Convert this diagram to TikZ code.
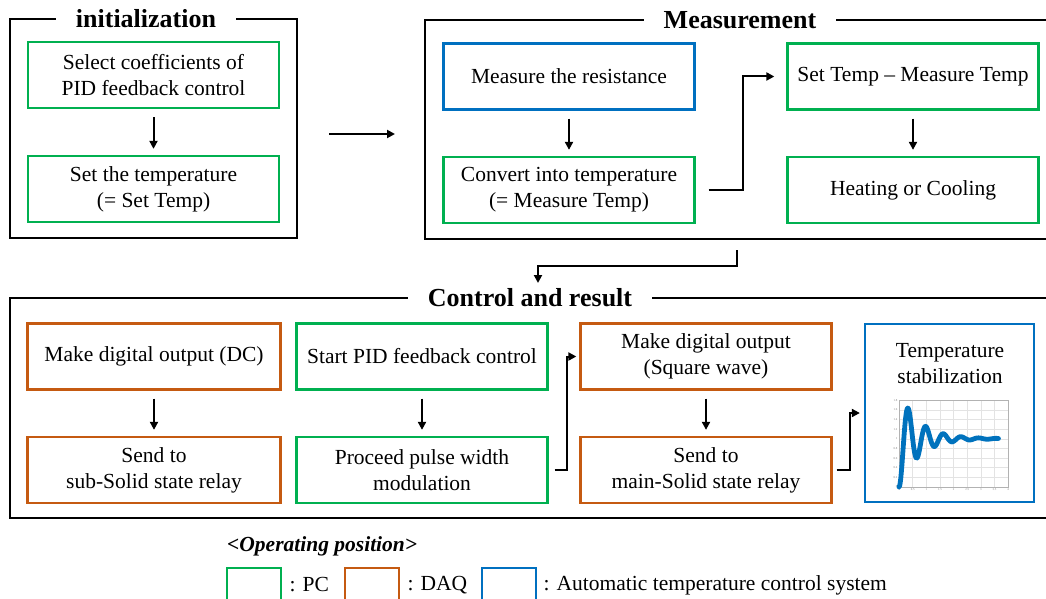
\documentclass[tikz,border=0pt]{standalone}
\usepackage{fontspec}
\setmainfont{Liberation Serif}
\usepackage{tikz}
\usetikzlibrary{arrows.meta}
\usetikzlibrary{positioning}
\definecolor{pcgreen}{RGB}{0,176,80}
\definecolor{daqorange}{RGB}{197,90,17}
\definecolor{sysblue}{RGB}{0,112,192}
\definecolor{plotblue}{RGB}{0,114,189}
\tikzset{
    stage/.style={
        draw,
        line width=2.3pt,
        minimum width=251pt,
        minimum height=66pt,
        align=center,
        inner sep=2pt,
        font=\fontsize{21.5}{26}\selectfont
    },
    pc/.style={stage, draw=pcgreen},
    daq/.style={stage, draw=daqorange},
    sys/.style={stage, draw=sysblue},
    frame/.style={draw, line width=2.4pt, inner sep=0pt},
    title/.style={
        fill=white,
        inner xsep=20pt,
        inner ysep=0pt,
        font=\fontsize{26}{30}\selectfont\bfseries
    },
    flow/.style={
        draw,
        -{Triangle[length=8pt, width=8pt]},
        line width=2pt
    },
    down/.style={flow, shorten <=8pt, shorten >=6pt},
    keybox/.style={line width=2.3pt, minimum width=54pt, minimum height=46pt},
    keytext/.style={anchor=west, font=\fontsize{21.5}{26}\selectfont}
}

\begin{document}
\begin{tikzpicture}[x=1pt, y=-1pt]
    \useasboundingbox (0,0) rectangle (1046,599);

    % Frames and their titles
    \node[frame, minimum width=287pt, minimum height=219pt] (init) at (153.5,128.5) {};
    \node[title] (inittitle) at (146,19) {initialization};
    \node[frame, minimum width=627pt, minimum height=219pt] (meas) at (738.5,129.5) {};
    \node[title] (meastitle) at (740,20) {Measurement};
    \node[frame, minimum width=1042pt, minimum height=220pt] (ctrl) at (531,408) {};
    \node[title] (ctrltitle) at (530,298) {Control and result};

    % Steps for initialization
    \node[pc] (coef) at (153.5,75) {Select coefficients of\\PID feedback control};
    \node[pc] (settemp) at (153.5,189) {Set the temperature\\(= Set Temp)};

    % Steps for measurement
    \node[sys] (resist) at (569,76.5) {Measure the resistance};
    \node[pc] (convert) at (569,190) {Convert into temperature\\(= Measure Temp)};
    \node[pc] (diff) at (913,76.5) {Set Temp -- Measure Temp};
    \node[pc] (heat) at (913,190) {Heating or Cooling};

    % Steps for control and result
    \node[daq, minimum width=253pt] (dcout) at (154,356.5) {Make digital output (DC)};
    \node[daq, minimum width=253pt] (subssr) at (154,470) {Send to\\sub-Solid state relay};
    \node[pc] (startpid) at (422,356.5) {Start PID feedback control};
    \node[pc] (pwm) at (422,470) {Proceed pulse width\\modulation};
    \node[daq] (square) at (706,356.5) {Make digital output\\(Square wave)};
    \node[daq] (mainssr) at (706,470) {Send to\\main-Solid state relay};
    \node[sys, minimum width=169pt, minimum height=178pt] (stable) at (949.5,413) {};
    \node[font=\fontsize{21.5}{26}\selectfont, align=center] (stabletext) at (950,364) {Temperature\\stabilization};

    % Response curve
    \begin{scope}[shift={(899,487)}, x=27.25pt, y=48.3pt]
        \draw[gray!22, line width=0.4pt] (0,0) grid[xstep=0.5, ystep=0.2] (4,1.8);
        \draw[gray!60, line width=0.5pt] (0,0) rectangle (4,1.8);
        \foreach \t in {0,0.5,1,1.5,2,2.5,3,3.5,4}
            \node[font=\fontsize{3}{3}\selectfont, text=gray, inner sep=0pt, below=1.5pt] at (\t,0) {\t};
        \foreach \v in {0,0.2,0.4,0.6,0.8,1,1.2,1.4,1.6,1.8}
            \node[font=\fontsize{3}{3}\selectfont, text=gray, inner sep=0pt, left=1.5pt] at (0,\v) {\v};
        \draw[plotblue, line width=4.8pt, line cap=round, line join=round]
            plot[domain=0:3.65, samples=160, smooth]
            (\x, {1-exp(-1.4*\x)*(cos(deg(9.7*\x))+0.144*sin(deg(9.7*\x)))});
    \end{scope}

    % Legend
    \node[anchor=west, inner sep=0pt, font=\fontsize{21.5}{26}\selectfont\bfseries\itshape] (keyhead) at (227,546) {<Operating position>};
    \node[keybox, draw=pcgreen] (pckey) at (254,591) {};
    \node[keytext] (pctext) at (286,585) {: PC};
    \node[keybox, draw=daqorange] (daqkey) at (372,591) {};
    \node[keytext] (daqtext) at (404,585) {: DAQ};
    \node[keybox, draw=sysblue] (syskey) at (509,591) {};
    \node[keytext] (systext) at (540,585) {: Automatic temperature control system};

    % Free ends of the arrows between frames
    \coordinate (initout) at (329,134);
    \coordinate (measin) at (395,134);
    \coordinate (measout) at (737,250);
    \coordinate (ctrlin) at (538,283);

    % Arrows
    \draw[flow] (initout) -- (measin);
    \draw[down] (coef) -- (settemp);
    \draw[down] (resist) -- (convert);
    \draw[down] (diff) -- (heat);
    \draw[flow] ([xshift=13pt]convert.east) -- ++(34,0) |- ([xshift=-12pt]diff.west);
    \draw[flow] (measout) -- ++(0,16) -| (ctrlin);
    \draw[down] (dcout) -- (subssr);
    \draw[down] (startpid) -- (pwm);
    \draw[down] (square) -- (mainssr);
    \draw[flow] ([xshift=6pt]pwm.east) -- ++(12,0) |- ([xshift=-3pt]square.west);
    \draw[flow] ([xshift=4pt]mainssr.east) -- ++(13,0) |- ([xshift=-4pt]stable.west);
\end{tikzpicture}
\end{document}
